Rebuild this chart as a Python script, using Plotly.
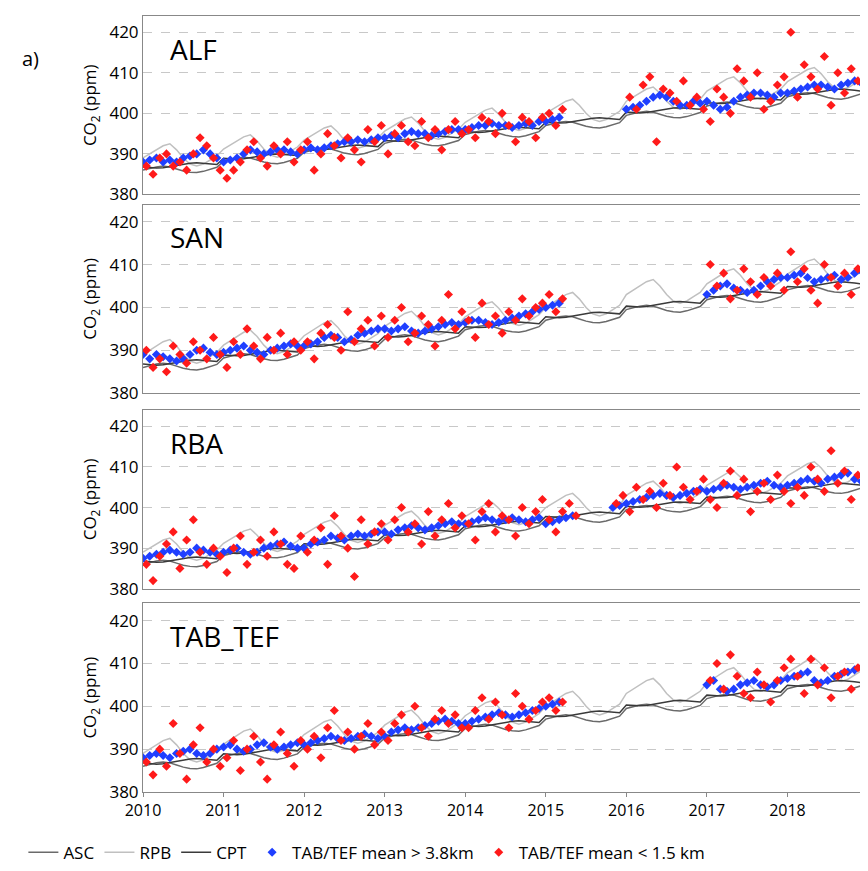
import plotly.graph_objects as go

N = None
years = list(range(2010, 2019))
months = [y + m / 12 for y in years for m in range(12)]

ASC = [386.0,386.4,386.8,387.0,386.8,386.3,385.8,385.5,385.4,385.7,386.2,386.7,
       388.2,388.6,389.0,389.2,389.0,388.5,388.0,387.7,387.6,387.9,388.4,388.9,
       390.4,390.8,391.2,391.4,391.2,390.7,390.2,389.9,389.8,390.1,390.6,391.1,
       392.6,393.0,393.4,393.6,393.4,392.9,392.4,392.1,392.0,392.3,392.8,393.3,
       394.8,395.2,395.6,395.8,395.6,395.1,394.6,394.3,394.2,394.5,395.0,395.5,
       397.0,397.4,397.8,398.0,397.8,397.3,396.8,396.5,396.4,396.7,397.2,397.7,
       399.5,399.9,400.3,400.5,400.3,399.8,399.3,399.0,398.9,399.2,399.7,400.2,
       401.8,402.2,402.6,402.8,402.6,402.1,401.6,401.3,401.2,401.5,402.0,402.5,
       404.1,404.5,404.9,405.1,404.9,404.4,403.9,403.6,403.5,403.8,404.3,404.8]
CPT = [386.8,386.6,386.5,386.6,386.9,387.2,387.5,387.7,387.8,387.7,387.5,387.4,
       388.9,388.8,388.7,388.8,389.1,389.4,389.7,389.9,390.0,389.9,389.7,389.6,
       391.1,391.0,390.9,391.0,391.3,391.6,391.9,392.1,392.2,392.1,391.9,391.8,
       393.3,393.2,393.1,393.2,393.5,393.8,394.1,394.3,394.4,394.3,394.1,394.0,
       395.5,395.4,395.3,395.4,395.7,396.0,396.3,396.5,396.6,396.5,396.3,396.2,
       397.8,397.7,397.6,397.7,398.0,398.3,398.6,398.8,398.9,398.8,398.6,398.5,
       400.3,400.2,400.1,400.2,400.5,400.8,401.1,401.3,401.4,401.3,401.1,401.0,
       402.6,402.5,402.4,402.5,402.8,403.1,403.4,403.6,403.7,403.6,403.4,403.3,
       404.9,404.8,404.7,404.8,405.1,405.4,405.7,405.9,406.0,405.9,405.7,405.5]
RPB = [389.0,390.0,391.0,392.0,392.5,391.0,389.0,387.5,387.0,387.5,388.5,389.5,
       391.2,392.2,393.2,394.2,394.7,393.2,391.2,389.7,389.2,389.7,390.7,391.7,
       393.4,394.4,395.4,396.4,396.9,395.4,393.4,391.9,391.4,391.9,392.9,393.9,
       395.6,396.6,397.6,398.6,399.1,397.6,395.6,394.1,393.6,394.1,395.1,396.1,
       397.8,398.8,399.8,400.8,401.3,399.8,397.8,396.3,395.8,396.3,397.3,398.3,
       400.0,401.0,402.0,403.0,403.5,402.0,400.0,398.5,398.0,398.5,399.5,400.5,
       403.0,404.0,405.0,406.0,406.5,405.0,403.0,401.5,401.0,401.5,402.5,403.5,
       405.5,406.5,407.5,408.5,409.0,407.5,405.5,404.0,403.5,404.0,405.0,406.0,
       407.8,408.8,409.8,410.8,411.3,409.8,407.8,406.3,405.8,406.3,407.3,408.3]

panels = ["ALF", "SAN", "RBA", "TAB_TEF"]
blue = {
 "ALF": [388,388.5,389,388,388.5,388,389,389.5,390,391,390,389,
         388,388.5,389,390,391,390.5,390,390.5,391,391,390.5,390,
         391,391.5,391,391.5,392,392.5,393,393,393.5,393,393.5,394,
         394,394.5,394,395,395.5,395,395,394.5,395,395.5,396,396,
         396,396.5,397,397,397.5,397,397,396.5,397,397.5,397,398,
         398,398.5,399,N,N,N,N,N,N,N,N,N,
         401,401.5,402,403,404,404.5,404,403,402,402,403,402.5,
         403,402,401,401.5,403,404,404.5,405,405,404.5,404,405,
         405,405.5,406,406.5,407,407,406.5,406,407,407.5,408,407.5],
 "SAN": [389,388,389,388.5,388,387.5,388,389,390,390.5,389.5,389,
         389.5,390,390.5,391,390,389.5,389,390,390.5,391,391.5,391,
         391,391.5,392,393,393.5,393,392,392.5,393.5,394,394.5,395,
         395,394.5,395,395.5,394.5,394,394.5,395,395.5,396,396.5,396,
         396.5,397,397,396.5,396,396.5,397,397.5,398,398.5,399,399.5,
         400,400.5,401,N,N,N,N,N,N,N,N,N,
         N,N,N,N,N,N,N,N,N,N,N,N,
         403,404,405,405.5,404.5,404,403.5,404,405,406,406.5,407,
         407,407.5,408,407,406,406.5,407,407.5,406.5,407,408,408.5],
 "RBA": [387.5,388,388.5,389,389.5,389,388.5,389,390,389.5,389,388.5,
         389,389.5,390,389,388.5,389,390,390.5,391,391.5,390.5,390,
         390,391,391.5,392,393,392.5,392,393,393.5,393,393.5,394,
         394,393.5,394.5,395,395.5,395,394.5,395,395.5,396,396.5,396,
         396,396.5,397,397.5,397,396.5,397,397.5,397,396.5,397,397.5,
         396,396.5,397,397.5,398,N,N,N,N,N,400,400.5,
         401,401.5,402,402.5,403,403.5,403,402.5,403,403.5,404,404.5,
         404,404.5,405,405.5,405,404.5,405,405.5,406,406.5,405.5,405,
         405.5,406,406.5,407,406.5,406,407,407.5,408,408.5,407,406.5],
 "TAB_TEF": [388,388.5,389,388.5,388,389,389.5,390,389,388.5,389,390,
         390.5,391,390,389.5,390,391,391.5,390.5,390,390.5,391,391.5,
         391,391.5,392,392.5,393,392.5,392,392.5,393,393.5,393,392.5,
         393,394,394.5,395,394.5,395,395.5,396,396.5,397,396.5,396,
         396,396.5,397,397.5,398,398.5,398,397.5,398,398.5,399,399.5,
         400,400.5,401,N,N,N,N,N,N,N,N,N,
         N,N,N,N,N,N,N,N,N,N,N,N,
         405,406,404,403.5,404,405,405.5,406,405,404.5,405,406,
         406.5,407,407.5,408,406,405.5,406,407,407.5,408,408.5,409],
}
red = {
 "ALF": [387,385,389,390,387,388,386,390,394,392,389,386,
         384,386,388,391,393,389,387,392,390,393,388,391,
         393,386,390,395,392,389,394,391,388,396,393,397,
         390,395,397,393,392,398,394,396,391,396,398,395,
         396,394,399,398,395,400,397,393,399,398,394,399,
         400,397,401,N,N,N,N,N,N,N,N,N,
         404,401,407,409,393,406,405,403,408,402,404,401,
         398,406,404,400,411,408,404,410,401,403,407,409,
         420,404,412,409,406,414,402,410,405,411,408,407],
 "SAN": [390,386,388,385,391,389,387,392,390,388,393,389,
         386,392,389,395,391,388,393,390,394,389,392,390,
         392,388,394,396,393,390,399,392,395,397,391,398,
         393,397,400,392,394,398,396,391,397,403,395,399,
         397,393,401,396,398,394,399,397,402,398,400,401,
         403,399,402,N,N,N,N,N,N,N,N,N,
         N,N,N,N,N,N,N,N,N,N,N,N,
         410,405,408,402,404,409,406,403,407,405,408,404,
         413,406,409,404,401,410,407,405,408,403,409,410],
 "RBA": [386,382,388,391,394,385,392,397,389,386,390,388,
         384,390,393,386,389,392,388,394,391,386,385,393,
         389,392,395,386,398,393,390,383,397,391,394,396,
         392,397,400,394,396,391,399,393,397,401,395,398,
         396,392,399,401,394,398,397,393,400,396,399,402,
         397,394,399,401,398,N,N,N,N,N,401,403,
         399,405,402,404,400,406,403,410,405,402,404,407,
         402,400,406,409,403,407,399,404,406,402,408,404,
         401,405,403,410,407,404,414,406,409,402,408,404],
 "TAB_TEF": [387,384,390,386,396,389,383,391,395,387,390,386,
         388,392,385,390,393,387,383,391,394,389,386,392,
         390,393,388,395,399,392,394,390,393,396,391,394,
         392,396,398,394,400,395,393,397,399,396,398,395,
         395,399,402,397,401,398,395,403,400,397,399,401,
         402,399,401,N,N,N,N,N,N,N,N,N,
         N,N,N,N,N,N,N,N,N,N,N,N,
         406,410,404,412,407,403,402,408,405,401,406,409,
         411,407,403,411,405,409,402,407,408,404,409,410],
}

domains = [[0.770, 1.0], [0.514, 0.757], [0.262, 0.492], [0.0, 0.243]]
fig = go.Figure()
for i, p in enumerate(panels):
    n = i + 1
    xa = "x" if n == 1 else f"x{n}"
    ya = "y" if n == 1 else f"y{n}"
    first = i == 0
    fig.add_trace(go.Scatter(x=months, y=ASC, mode="lines", name="ASC", line=dict(color="#6a6a6a", width=1.5),
                             xaxis=xa, yaxis=ya, showlegend=first))
    fig.add_trace(go.Scatter(x=months, y=RPB, mode="lines", name="RPB", line=dict(color="#c0c0c0", width=1.5),
                             xaxis=xa, yaxis=ya, showlegend=first))
    fig.add_trace(go.Scatter(x=months, y=CPT, mode="lines", name="CPT", line=dict(color="#3a3a3a", width=1.5),
                             xaxis=xa, yaxis=ya, showlegend=first))
    fig.add_trace(go.Scatter(x=months, y=blue[p], mode="markers", name="TAB/TEF mean > 3.8km",
                             marker=dict(symbol="diamond", color="#1f3fff", size=7), xaxis=xa, yaxis=ya, showlegend=first))
    fig.add_trace(go.Scatter(x=[m + 0.5 / 12 for m in months], y=red[p], mode="markers", name="TAB/TEF mean < 1.5 km",
                             marker=dict(symbol="diamond", color="#ff1a1a", size=7), xaxis=xa, yaxis=ya, showlegend=first))
    axk = "xaxis" if n == 1 else f"xaxis{n}"
    ayk = "yaxis" if n == 1 else f"yaxis{n}"
    fig.layout[axk] = dict(range=[2010, 2019], domain=[0, 1], anchor=ya, showgrid=False,
                           tickvals=years, showticklabels=(n == 4), ticks="outside" if n == 4 else "",
                           ticklen=4, tickcolor="#888",
                           showline=True, mirror=True, linecolor="#888", linewidth=1,
                           tickfont=dict(size=16, color="black"), zeroline=False)
    fig.layout[ayk] = dict(range=[380, 424], domain=domains[i], anchor=xa, tickvals=[380, 390, 400, 410, 420],
                           showgrid=True, gridcolor="#c8c8c8", griddash="dash", gridwidth=1,
                           showline=True, mirror=True, linecolor="#888", linewidth=1,
                           tickfont=dict(size=17, color="black"), zeroline=False,
                           title=dict(text="CO<sub>2</sub> (ppm)", font=dict(size=17, color="black"), standoff=8))
    fig.add_annotation(text=p, xref="paper", yref="paper", x=0.035, y=domains[i][1] - 0.015,
                       xanchor="left", yanchor="top", showarrow=False, font=dict(size=28, color="black"))

fig.add_annotation(text="a)", xref="paper", yref="paper", x=-0.17, y=0.965, xanchor="left",
                   showarrow=False, font=dict(size=20, color="black"))
fig.update_layout(width=868, height=871, margin=dict(l=135, r=8, t=8, b=81),
                  plot_bgcolor="white", paper_bgcolor="white",
                  font=dict(family="Open Sans", color="black"),
                  legend=dict(orientation="h", x=-0.165, xanchor="left", y=-0.055, yanchor="top",
                              font=dict(size=17), itemwidth=30, tracegroupgap=0))
fig.write_html("out.html")
